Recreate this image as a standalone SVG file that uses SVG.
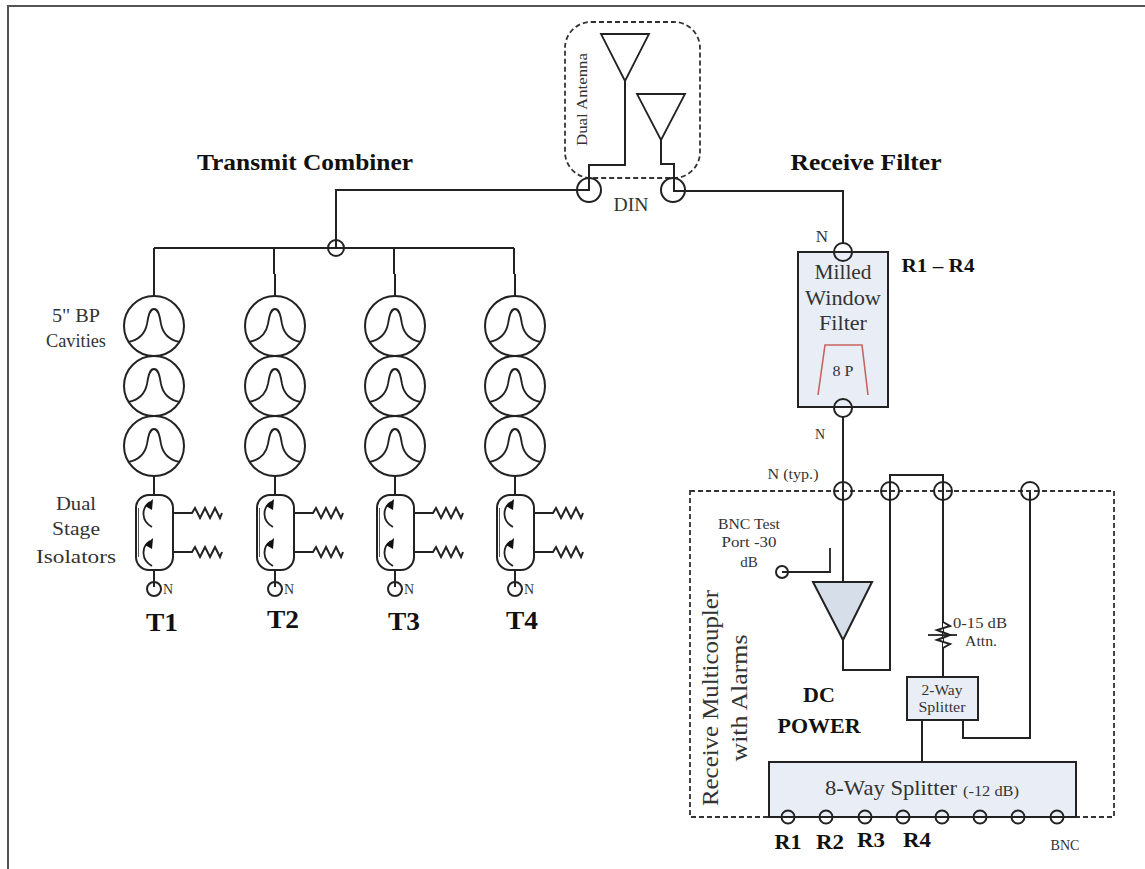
<svg xmlns="http://www.w3.org/2000/svg" xmlns:xlink="http://www.w3.org/1999/xlink" width="1145" height="869" viewBox="0 0 1145 869">
<style>
text{font-family:"Liberation Serif","DejaVu Serif",serif;fill:#333;text-anchor:middle}
.b{font-weight:bold;fill:#111}
.l{fill:none;stroke:#222;stroke-width:2}
.c{fill:none;stroke:#222;stroke-width:2}
.t{fill:none;stroke:#222;stroke-width:1.8}
.d{fill:none;stroke:#333;stroke-width:1.8;stroke-dasharray:5 3}
.f{fill:#e9eef6;stroke:#222;stroke-width:2}
</style>
<defs>
<g id="cavity">
<circle class="c" cx="0" cy="0" r="30"/>
<path class="t" d="M-26,16C-15,14 -9,8 -7,-2C-5.500,-12 -4,-17 0,-17C4,-17 5.500,-12 7,-2C9,8 15,14 26,16"/>
</g>
<g id="chain">
<path class="l" d="M0,-52V-30M0,150V169M0,244V261"/>
<use xlink:href="#cavity" y="0"/>
<use xlink:href="#cavity" y="60"/>
<use xlink:href="#cavity" y="120"/>
<rect class="c" x="-18" y="169" width="37" height="75" rx="13"/>
<path d="M-15.500,182V231" fill="none" stroke="#555" stroke-width="1"/>
<path class="t" d="M-2,201C-13,195 -13,182 -4,176M-2,240C-13,234 -13,221 -4,215"/>
<path d="M-9,180L-1,173L-2,184ZM-9,219L-1,212L-2,223Z" fill="#111"/>
<path class="l" d="M19,187H38L41,182L46,192L51,182L56,192L61,182L66,192L68,187M19,226H38L41,221L46,231L51,221L56,231L61,221L66,231L68,226"/>
<circle class="c" cx="0" cy="263" r="7"/>
<text x="14" y="268" font-size="14">N</text>
</g>
</defs>

<g id="frame"><path d="M8,869V6H1145" fill="none" stroke="#555" stroke-width="2"/></g>

<g id="dual-antenna">
<rect class="d" x="565" y="22" width="135" height="156" rx="26"/>
<path class="t" d="M601,34H649L625,81ZM637,94H685L661,140Z"/>
<text x="0" y="0" font-size="14" textLength="93" lengthAdjust="spacingAndGlyphs" transform="translate(587,99.500) rotate(-90)">Dual Antenna</text>
<circle class="c" cx="589" cy="190" r="12"/>
<circle class="c" cx="673" cy="190" r="12"/>
<text x="631" y="211" font-size="18" textLength="35" lengthAdjust="spacingAndGlyphs">DIN</text>
</g>

<g id="connectors">
<path class="l" d="M625,81V165H589V190H336V248"/>
<path class="l" d="M661,140V164H674V191H843V243"/>
<path class="l" d="M154,248H514M154,248V274M274,248V274M394,248V274M514,248V274"/>
<path class="l" d="M843,417V582M843,640V670H890V475H943V677"/>
<path class="l" d="M1030,491V738H963V720M922,720V762"/>
<path class="t" d="M782,572H830V548"/>
</g>

<g id="junction"><circle cx="336" cy="248" r="8" fill="none" stroke="#222" stroke-width="2"/></g>

<g id="transmit-chains">
<use xlink:href="#chain" x="154" y="326"/>
<use xlink:href="#chain" x="275" y="326"/>
<use xlink:href="#chain" x="395" y="326"/>
<use xlink:href="#chain" x="515" y="326"/>
</g>

<g id="labels-left">
<text class="b" x="305" y="170" font-size="23" textLength="216" lengthAdjust="spacingAndGlyphs">Transmit Combiner</text>
<text class="b" x="866" y="170" font-size="23" textLength="151" lengthAdjust="spacingAndGlyphs">Receive Filter</text>
<text x="76" y="322" font-size="19" textLength="48" lengthAdjust="spacingAndGlyphs">5" BP</text>
<text x="76" y="347" font-size="19" textLength="60" lengthAdjust="spacingAndGlyphs">Cavities</text>
<text x="76" y="510" font-size="19" textLength="40" lengthAdjust="spacingAndGlyphs">Dual</text>
<text x="76" y="535" font-size="19" textLength="48" lengthAdjust="spacingAndGlyphs">Stage</text>
<text x="76" y="563" font-size="19" textLength="80" lengthAdjust="spacingAndGlyphs">Isolators</text>
<text class="b" x="162" y="631" font-size="26" textLength="32" lengthAdjust="spacingAndGlyphs">T1</text>
<text class="b" x="283" y="628" font-size="26" textLength="32" lengthAdjust="spacingAndGlyphs">T2</text>
<text class="b" x="404" y="630" font-size="26" textLength="32" lengthAdjust="spacingAndGlyphs">T3</text>
<text class="b" x="522" y="629" font-size="26" textLength="32" lengthAdjust="spacingAndGlyphs">T4</text>
</g>

<g id="milled-filter">
<rect class="f" x="798" y="252" width="90" height="155"/>
<circle class="c" cx="843" cy="252" r="9"/>
<circle class="c" cx="843" cy="408" r="9"/>
<text x="843" y="279" font-size="21" textLength="57" lengthAdjust="spacingAndGlyphs">Milled</text>
<text x="843" y="305" font-size="21" textLength="76" lengthAdjust="spacingAndGlyphs">Window</text>
<text x="843" y="330" font-size="21" textLength="48" lengthAdjust="spacingAndGlyphs">Filter</text>
<path d="M818,395L825,345H862L868,395" fill="none" stroke="#c8645f" stroke-width="1.600"/>
<text x="843" y="376" font-size="14" textLength="21" lengthAdjust="spacingAndGlyphs">8 P</text>
<text x="822" y="242" font-size="17">N</text>
<text x="820" y="439" font-size="14">N</text>
<text class="b" x="938" y="272" font-size="19" textLength="73" lengthAdjust="spacingAndGlyphs">R1 – R4</text>
</g>

<g id="multicoupler">
<rect class="d" x="690" y="491" width="424" height="326"/>
<circle class="c" cx="843" cy="491" r="9"/>
<circle class="c" cx="890" cy="491" r="9"/>
<circle class="c" cx="943" cy="491" r="9"/>
<circle class="c" cx="1030" cy="491" r="9"/>
<text x="793" y="479" font-size="14" textLength="51" lengthAdjust="spacingAndGlyphs">N (typ.)</text>
<text x="749" y="529" font-size="15" textLength="62" lengthAdjust="spacingAndGlyphs">BNC Test</text>
<text x="749" y="547" font-size="15" textLength="55" lengthAdjust="spacingAndGlyphs">Port -30</text>
<text x="749" y="567" font-size="15">dB</text>
<circle class="c" cx="782" cy="572" r="6"/>
<text x="0" y="0" font-size="23" textLength="216" lengthAdjust="spacingAndGlyphs" transform="translate(718,698) rotate(-90)">Receive Multicoupler</text>
<text x="0" y="0" font-size="23" textLength="127" lengthAdjust="spacingAndGlyphs" transform="translate(747,698) rotate(-90)">with Alarms</text>
<text class="b" x="819" y="702" font-size="22">DC</text>
<text class="b" x="819" y="733" font-size="22">POWER</text>
</g>

<g id="amplifier"><path d="M813,582H872L843,640Z" fill="#d6dfe9" stroke="#222" stroke-width="2"/></g>

<g id="attenuator">
<path d="M943,622L950,626L937,630L950,635L937,640L950,644L943,648" fill="#fff" stroke="#222" stroke-width="2"/>
<path class="t" d="M928,635H957"/>
<text x="980" y="628" font-size="15" textLength="54" lengthAdjust="spacingAndGlyphs">0-15 dB</text>
<text x="981" y="646" font-size="15" textLength="32" lengthAdjust="spacingAndGlyphs">Attn.</text>
</g>

<g id="splitter-2way">
<rect class="f" x="907" y="677" width="71" height="43"/>
<text x="942" y="695" font-size="14" textLength="41" lengthAdjust="spacingAndGlyphs">2-Way</text>
<text x="942" y="712" font-size="14" textLength="47" lengthAdjust="spacingAndGlyphs">Splitter</text>
</g>

<g id="splitter-8way">
<rect class="f" x="769" y="762" width="307" height="55"/>
<text x="891" y="795" font-size="21" textLength="132" lengthAdjust="spacingAndGlyphs">8-Way Splitter</text>
<text x="991" y="796" font-size="15" textLength="56" lengthAdjust="spacingAndGlyphs">(-12 dB)</text>
<g fill="none" stroke="#222" stroke-width="2">
<circle cx="788" cy="817" r="6.500"/><circle cx="826" cy="817" r="6.500"/><circle cx="865" cy="817" r="6.500"/><circle cx="903" cy="817" r="6.500"/>
<circle cx="942" cy="817" r="6.500"/><circle cx="980" cy="817" r="6.500"/><circle cx="1018" cy="817" r="6.500"/><circle cx="1057" cy="817" r="6.500"/>
</g>
<text class="b" x="788" y="849" font-size="21" textLength="27" lengthAdjust="spacingAndGlyphs">R1</text>
<text class="b" x="830" y="849" font-size="21" textLength="28" lengthAdjust="spacingAndGlyphs">R2</text>
<text class="b" x="871" y="847" font-size="21" textLength="28" lengthAdjust="spacingAndGlyphs">R3</text>
<text class="b" x="917" y="847" font-size="21" textLength="28" lengthAdjust="spacingAndGlyphs">R4</text>
<text x="1065" y="850" font-size="14" textLength="29" lengthAdjust="spacingAndGlyphs">BNC</text>
</g>
</svg>
